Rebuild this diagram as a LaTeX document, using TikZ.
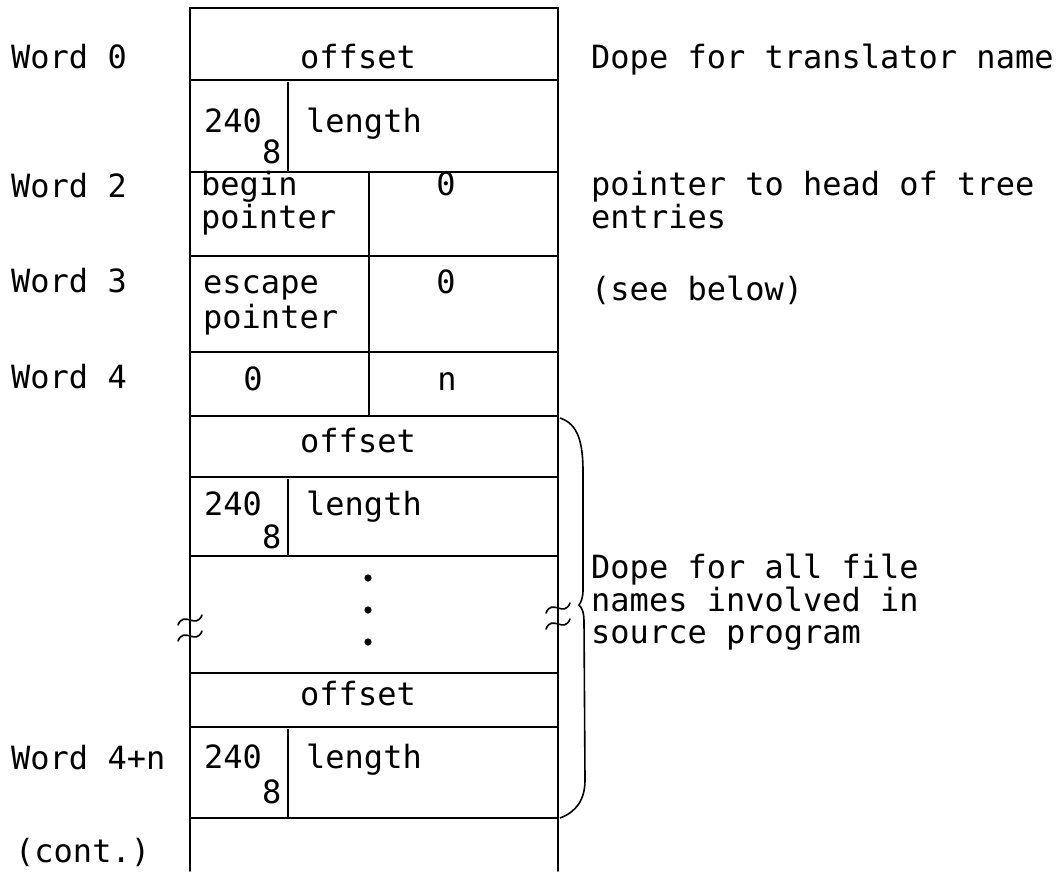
\documentclass[tikz,border=0pt]{standalone}
\usepackage{fontspec}
\newfontfamily\tw{DejaVu Sans Mono}
\begin{document}
\begin{tikzpicture}[x=1pt,y=-1pt,
  frame/.style={line width=1.6pt, line cap=round},
  rowline/.style={line width=1.3pt},
  tt/.style={font=\tw\fontsize{32}{33}\selectfont, inner sep=0pt, anchor=base west},
  ttc/.style={font=\tw\fontsize{32}{33}\selectfont, inner sep=0pt, anchor=base},
  brk/.style={line width=1.6pt, line cap=round},
  dotmark/.style={fill=black, draw=none}
]
\useasboundingbox (0,0) rectangle (1064,871);
% frame
\coordinate (tl) at (190,8);
\coordinate (tr) at (558,8);
\coordinate (bl) at (190,871);
\coordinate (br) at (558,871);
\draw[frame] (bl) -- (tl) -- (tr) -- (br);
% row lines
\foreach \yy in {80,172,256,352,416,477,556,673,727,818}
  \draw[rowline] (190,\yy) -- (558,\yy);
% column dividers
\draw[rowline] (288,82) -- (288,172);
\draw[rowline] (369,172) -- (369,416);
\draw[rowline] (288,479) -- (288,556);
\draw[rowline] (288,729) -- (288,818);

% left labels
\node[tt] (w0) at (11,68) {Word 0};
\node[tt] (w2) at (11,197) {Word 2};
\node[tt] (w3) at (11,292) {Word 3};
\node[tt] (w4) at (11,388) {Word 4};
\node[tt] (w4n) at (11,769) {Word 4+n};
\node[tt] (cont) at (15,862) {(cont.)};

% cells
\node[ttc] (off1) at (358,68) {offset};
\node[tt] (ca) at (204,132) {240};
\node[tt] (ea) at (262,163) {8};
\node[tt] (la) at (306,132) {length};
\node[tt] (bp1) at (201,195) {begin};
\node[tt] (bp2) at (201,228) {pointer};
\node[ttc] (z1) at (446,195) {0};
\node[tt] (ep1) at (203,293) {escape};
\node[tt] (ep2) at (203,328) {pointer};
\node[ttc] (z2) at (446,293) {0};
\node[ttc] (z3) at (253,390) {0};
\node[ttc] (nn) at (447,390) {n};
\node[ttc] (off2) at (358,452) {offset};
\node[tt] (cb) at (204,515) {240};
\node[tt] (eb) at (262,548) {8};
\node[tt] (lb) at (306,515) {length};
\foreach \yy in {578,610,642}
  \fill[dotmark] (368,\yy) circle (3.6);
\node[ttc] (off3) at (358,705) {offset};
\node[tt] (cc) at (204,768) {240};
\node[tt] (ec) at (262,803) {8};
\node[tt] (lc) at (306,768) {length};

% break marks
\foreach \xx/\yy in {190/620,190/636,558/608,558/624}
  \draw[brk] (\xx-12,\yy+5) .. controls (\xx-6,\yy-10) and (\xx+6,\yy+10) .. (\xx+12,\yy-5);

% brace
\draw[line width=1.6pt] (560,418) .. controls (578,424) and (583,442) .. (583,472)
  -- (583,590) .. controls (583,598) and (581,602) .. (579,605)
  .. controls (582,608) and (584,612) .. (584,622)
  -- (585,780) .. controls (585,800) and (576,812) .. (560,818);

% right labels
\node[tt] (r1) at (591,68) {Dope for translator name};
\node[tt] (r2) at (591,195) {pointer to head of tree};
\node[tt] (r2b) at (591,228) {entries};
\node[tt] (r3) at (591,300) {(see below)};
\node[tt] (r4) at (591,578) {Dope for all file};
\node[tt] (r4b) at (591,611) {names involved in};
\node[tt] (r4c) at (591,643) {source program};
\end{tikzpicture}
\end{document}
